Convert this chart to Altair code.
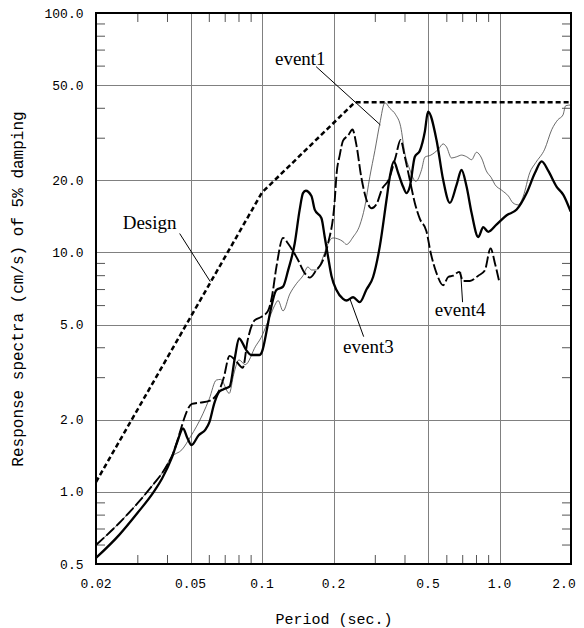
import altair as alt
import pandas as pd

# ---------------- data ----------------
x_ticks = [0.02, 0.05, 0.1, 0.2, 0.5, 1.0, 2.0]
x_tick_labels = ["0.02", "0.05", "0.1", "0.2", "0.5", "1.0", "2.0"]
y_ticks = [0.5, 1, 2, 5, 10, 20, 50, 100]
x_minor = [0.03, 0.04, 0.06, 0.07, 0.08, 0.09, 0.3, 0.4, 0.6, 0.7, 0.8, 0.9]
y_minor = [0.6, 0.7, 0.8, 0.9, 3, 4, 6, 7, 8, 9, 30, 40, 60, 70, 80, 90]

design_T = [0.02, 0.1, 0.246, 2.0]
design_V = [1.1, 17.8, 42.4, 42.4]

event1_T = [0.02, 0.025, 0.03, 0.035, 0.038, 0.0416, 0.046, 0.050, 0.0564, 0.060,
            0.0642, 0.067, 0.0728, 0.076, 0.080, 0.085, 0.094, 0.099, 0.108, 0.113,
            0.1169, 0.1226, 0.1309, 0.1395, 0.1488, 0.156, 0.1615, 0.1695, 0.181, 0.1897,
            0.199, 0.2086, 0.2194, 0.2268, 0.2418, 0.2581, 0.2708, 0.2844, 0.2987, 0.3133,
            0.3291, 0.3453, 0.3655, 0.3837, 0.3993, 0.419, 0.4444, 0.47, 0.485, 0.514,
            0.553, 0.579, 0.598, 0.628, 0.66, 0.692, 0.727, 0.763, 0.80, 0.84,
            0.88, 0.924, 0.957, 1.021, 1.09, 1.14, 1.2, 1.26, 1.34, 1.42,
            1.55, 1.66, 1.76, 1.85, 1.9, 2.0]
event1_V = [0.60, 0.74, 0.90, 1.08, 1.20, 1.40, 1.50, 1.70, 2.12, 2.45,
            2.93, 2.95, 2.58, 3.1, 3.56, 3.4, 4.06, 4.4, 5.4, 6.0,
            6.3, 5.7, 6.7, 7.4, 8.0, 8.7, 8.45, 8.45, 9.6, 10.9,
            11.5, 11.4, 11.1, 10.8, 11.6, 13.0, 15.5, 20.7, 26.6, 34.5,
            42.2, 40.0, 37.6, 33.5, 26.0, 22.2, 19.8, 22.2, 25.0, 25.5,
            27.0, 28.4, 27.6, 24.8, 25.1, 25.5, 25.1, 24.4, 26.2, 24.8,
            21.9, 20.5, 19.2, 18.2, 17.2, 16.1, 15.8, 17.2, 21.5, 23.7,
            27.0, 32.6, 35.8, 37.5, 41.0, 41.3]

event3_T = [0.02, 0.025, 0.03, 0.035, 0.038, 0.0416, 0.044, 0.0465, 0.0485, 0.0505,
            0.054, 0.058, 0.060, 0.063, 0.066, 0.0686, 0.073, 0.077, 0.080, 0.0857,
            0.090, 0.0975, 0.100, 0.105, 0.108, 0.115, 0.1226, 0.1287, 0.1373, 0.1441,
            0.1488, 0.1528, 0.1615, 0.1667, 0.178, 0.1837, 0.1897, 0.196, 0.2058, 0.2194,
            0.2268, 0.2418, 0.2581, 0.2753, 0.2936, 0.3133, 0.3344, 0.3453, 0.3589, 0.3743,
            0.3929, 0.406, 0.419, 0.44, 0.462, 0.485, 0.50, 0.543, 0.579, 0.618,
            0.66, 0.692, 0.727, 0.763, 0.814, 0.854, 0.896, 0.973, 1.072, 1.181,
            1.301, 1.411, 1.505, 1.605, 1.741, 1.857, 1.994]
event3_V = [0.53, 0.66, 0.82, 1.0, 1.14, 1.38, 1.62, 1.84, 1.68, 1.57,
            1.72, 1.83, 1.95, 2.35, 2.62, 2.68, 2.75, 3.67, 4.38, 3.92,
            3.73, 3.73, 3.85, 4.8, 5.57, 6.97, 7.2, 8.4, 10.9, 15.1,
            17.7, 18.1, 17.2, 15.1, 13.9, 11.6, 9.6, 8.0, 6.97, 6.4,
            6.3, 6.5, 6.2, 7.0, 7.9, 10.6, 16.6, 20.7, 24.0, 21.5,
            18.8, 17.7, 18.8, 25.1, 26.6, 32.0, 38.7, 29.5, 20.1, 16.1,
            19.2, 22.1, 18.8, 14.6, 11.6, 12.75, 12.2, 13.1, 14.3, 15.1,
            17.7, 21.5, 24.0, 21.9, 18.8, 17.4, 14.8]

event4_T = [0.02, 0.025, 0.03, 0.035, 0.038, 0.0416, 0.0507, 0.055, 0.060, 0.0635,
            0.066, 0.069, 0.073, 0.077, 0.083, 0.087, 0.093, 0.100, 0.106, 0.110,
            0.115, 0.1226, 0.1287, 0.1341, 0.1418, 0.1513, 0.1589, 0.1695, 0.178, 0.1897,
            0.2025, 0.2058, 0.2125, 0.2194, 0.2305, 0.2403, 0.2496, 0.2617, 0.2753, 0.2894,
            0.3043, 0.32, 0.3413, 0.3655, 0.383, 0.3993, 0.419, 0.44, 0.462, 0.492,
            0.514, 0.543, 0.579, 0.608, 0.638, 0.676, 0.703, 0.75, 0.814, 0.867,
            0.917, 0.957, 0.996]
event4_V = [0.60, 0.74, 0.90, 1.08, 1.20, 1.40, 2.33, 2.36, 2.40, 2.5,
            2.65, 3.0, 3.7, 3.56, 3.3, 4.3, 5.2, 5.4, 5.7, 6.5,
            8.7, 11.5, 10.9, 10.25, 9.3, 8.2, 7.85, 8.45, 9.0, 10.9,
            16.6, 21.0, 25.5, 29.3, 30.8, 32.6, 28.2, 20.7, 16.6, 15.3,
            16.0, 18.4, 20.1, 25.1, 29.5, 25.1, 20.1, 16.1, 13.8, 12.3,
            9.9, 8.2, 7.3, 7.9, 8.0, 8.3, 7.6, 7.6, 8.0, 8.4,
            10.4, 9.0, 7.6]

labels = ["Design", "event1", "event3", "event4"]
label_T = [0.0259, 0.1134, 0.2194, 0.534]
label_V = [12.5, 60.7, 3.80, 5.43]
leader_T1 = [0.045, 0.169, 0.234, 0.686]
leader_V1 = [12.0, 59.7, 6.44, 8.3]
leader_T2 = [0.0606, 0.315, 0.268, 0.699]
leader_V2 = [7.55, 34.1, 4.45, 6.2]

# ---------------- chart ----------------
W, H = 475, 551
MONO = "Liberation Mono"
SERIF = "Liberation Serif"

xscale = alt.Scale(type="log", domain=[0.02, 2.0], nice=False)
yscale = alt.Scale(type="log", domain=[0.5, 100], nice=False)

xaxis = alt.Axis(values=x_ticks, labels=False, grid=True, gridColor="#808080",
                 gridWidth=1, ticks=False, domain=False,
                 title="Period (sec.)", titleFont=MONO, titleFontSize=15,
                 titleFontWeight="normal", titleColor="black",
                 titleBaseline="alphabetic", titleY=59)
yaxis = alt.Axis(values=y_ticks, format=".1f", grid=True, gridColor="#808080",
                 gridWidth=1, ticks=False, domain=False, labelFont=MONO,
                 labelFontSize=13, labelColor="black", labelPadding=13,
                 labelFlush=False, labelOverlap=False,
                 title="Response spectra (cm/s) of 5% damping", titleFont=MONO,
                 titleFontSize=16, titleFontWeight="normal", titleColor="black",
                 titleBaseline="alphabetic", titleX=-74)


def X(f):
    return alt.X(f, type="quantitative", scale=xscale, axis=xaxis)


def Y(f):
    return alt.Y(f, type="quantitative", scale=yscale, axis=yaxis)


def series(T, V):
    return pd.DataFrame({"T": T, "V": V})


design = alt.Chart(series(design_T, design_V)).mark_line(
    color="black", strokeWidth=2.5, strokeDash=[5, 3]).encode(x=X("T"), y=Y("V"))
ev1 = alt.Chart(series(event1_T, event1_V)).mark_line(
    color="#444444", strokeWidth=0.8, interpolate="monotone").encode(x=X("T"), y=Y("V"))
ev4 = alt.Chart(series(event4_T, event4_V)).mark_line(
    color="black", strokeWidth=1.9, strokeDash=[11, 3], interpolate="monotone").encode(x=X("T"), y=Y("V"))
ev3 = alt.Chart(series(event3_T, event3_V)).mark_line(
    color="black", strokeWidth=2.3, interpolate="monotone").encode(x=X("T"), y=Y("V"))

xm = pd.DataFrame({"T": x_minor})
ym = pd.DataFrame({"V": y_minor})
tick_style = dict(color="#555555", strokeWidth=1)
tb = alt.Chart(xm).mark_rule(**tick_style).encode(x=X("T"), y=alt.value(H), y2=alt.value(H - 9))
tt = alt.Chart(xm).mark_rule(**tick_style).encode(x=X("T"), y=alt.value(0), y2=alt.value(9))
tl = alt.Chart(ym).mark_rule(**tick_style).encode(y=Y("V"), x=alt.value(0), x2=alt.value(9))
tr = alt.Chart(ym).mark_rule(**tick_style).encode(y=Y("V"), x=alt.value(W), x2=alt.value(W - 9))

# x tick labels as text (last one nudged so it stays inside the page)
xl_main = pd.DataFrame({"T": x_ticks[:-1], "lab": x_tick_labels[:-1]})
xl_last = pd.DataFrame({"T": x_ticks[-1:], "lab": x_tick_labels[-1:]})
xlab_style = dict(font=MONO, fontSize=13, color="black", baseline="top", align="center")
xl1 = alt.Chart(xl_main).mark_text(**xlab_style).encode(
    x=X("T"), y=alt.value(H + 14), text="lab:N")
xl2 = alt.Chart(xl_last).mark_text(dx=-7, **xlab_style).encode(
    x=X("T"), y=alt.value(H + 14), text="lab:N")

ann = pd.DataFrame({"label": labels, "T": label_T, "V": label_V})
lead = pd.DataFrame({"T1": leader_T1, "V1": leader_V1, "T2": leader_T2, "V2": leader_V2})
leaders = alt.Chart(lead).mark_rule(color="black", strokeWidth=1).encode(
    x=X("T1"), y=Y("V1"), x2="T2:Q", y2="V2:Q")
texts = alt.Chart(ann).mark_text(align="left", baseline="alphabetic", font=SERIF,
                                 fontSize=19, color="black").encode(
    x=X("T"), y=Y("V"), text="label:N")

frame = alt.Chart(alt.Data(values=[{"a": 1}])).mark_rect(
    fill="transparent", stroke="black", strokeWidth=2).encode(
    x=alt.value(0), x2=alt.value(W), y=alt.value(0), y2=alt.value(H))

chart = alt.layer(tb, tt, tl, tr, design, ev1, ev4, ev3, leaders, texts,
                  xl1, xl2, frame).properties(
    width=W, height=H,
    autosize=alt.AutoSizeParams(type="none"),
    padding={"left": 88, "top": 5, "right": 5, "bottom": 64},
    background="white",
).configure_view(stroke="transparent")

chart.save("out.html", embed_options={"renderer": "svg", "actions": False})
